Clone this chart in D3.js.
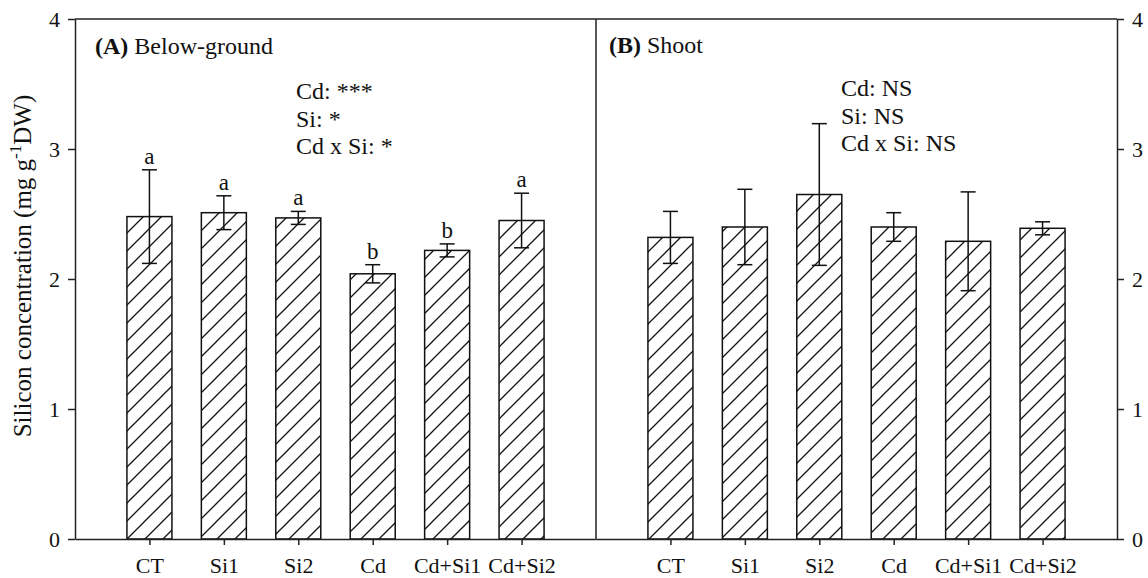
<!DOCTYPE html>
<meta charset="utf-8">
<style>
  body { margin: 0; background: #fff; }
  svg text { font-family: "Liberation Serif", "Times New Roman", serif; fill: #111; }
  .axis path, .axis line { stroke: #222; stroke-width: 1.5; }
  .axis text { font-size: 22px; }
</style>
<body>
<div id="chart"></div>
<script src="https://d3js.org/d3.v7.min.js"></script>
<script>
// data
const categories = ["CT", "Si1", "Si2", "Cd", "Cd+Si1", "Cd+Si2"];
const belowMean = [2.48, 2.51, 2.47, 2.04, 2.22, 2.45];
const belowErr = [0.36, 0.13, 0.05, 0.07, 0.05, 0.21];
const belowLetters = ["a", "a", "a", "b", "b", "a"];
const shootMean = [2.32, 2.40, 2.65, 2.40, 2.29, 2.39];
const shootErr = [0.20, 0.29, 0.545, 0.11, 0.38, 0.05];
const yTicks = [0, 1, 2, 3, 4];
const belowStats = ["Cd: ***", "Si: *", "Cd x Si: *"];
const shootStats = ["Cd: NS", "Si: NS", "Cd x Si: NS"];

const width = 1148, height = 578;
const pLeft = 75, pMid = 596, pRight = 1117, pTop = 19, pBottom = 539;

const svg = d3.select("#chart").append("svg")
  .attr("width", width)
  .attr("height", height);

// hatch pattern
const pat = svg.append("defs").append("pattern")
  .attr("id", "hatch")
  .attr("patternUnits", "userSpaceOnUse")
  .attr("width", 18)
  .attr("height", 18);
pat.append("path")
  .attr("d", "M-4,4 L4,-4 M0,18 L18,0 M14,22 L22,14")
  .attr("stroke", "#111")
  .attr("stroke-width", 1.3);

const y = d3.scaleLinear().domain([0, 4]).range([pBottom, pTop]);

const panels = [
  { x0: pLeft, x1: pMid, mean: belowMean, err: belowErr, letters: belowLetters },
  { x0: pMid, x1: pRight, mean: shootMean, err: shootErr, letters: null }
];

const barW = 45, capW = 15;

panels.forEach(p => {
  const x = d3.scalePoint().domain(categories).range([p.x0, p.x1]).padding(1);
  const rows = categories.map((c, i) => ({ c, m: p.mean[i], e: p.err[i], l: p.letters ? p.letters[i] : null }));

  const g = svg.append("g");

  g.selectAll(".bg").data(rows).join("rect")
    .attr("x", d => x(d.c) - barW / 2)
    .attr("y", d => y(d.m))
    .attr("width", barW)
    .attr("height", d => y(0) - y(d.m))
    .attr("fill", "#fff");

  g.selectAll(".bar").data(rows).join("rect")
    .attr("x", d => x(d.c) - barW / 2)
    .attr("y", d => y(d.m))
    .attr("width", barW)
    .attr("height", d => y(0) - y(d.m))
    .attr("fill", "url(#hatch)")
    .attr("stroke", "#111")
    .attr("stroke-width", 1.5);

  // error bars
  g.selectAll(".ev").data(rows).join("line")
    .attr("x1", d => x(d.c)).attr("x2", d => x(d.c))
    .attr("y1", d => y(d.m - d.e)).attr("y2", d => y(d.m + d.e))
    .attr("stroke", "#111").attr("stroke-width", 1.5);
  [1, -1].forEach(s => {
    g.selectAll(".cap" + (s > 0 ? "u" : "d")).data(rows).join("line")
      .attr("x1", d => x(d.c) - capW / 2).attr("x2", d => x(d.c) + capW / 2)
      .attr("y1", d => y(d.m + s * d.e)).attr("y2", d => y(d.m + s * d.e))
      .attr("stroke", "#111").attr("stroke-width", 1.5);
  });

  if (p.letters) {
    g.selectAll(".lt").data(rows).join("text")
      .attr("x", d => x(d.c))
      .attr("y", d => y(d.m + d.e) - 6)
      .attr("text-anchor", "middle")
      .style("font-size", "23px")
      .text(d => d.l);
  }

  // x axis
  svg.append("g")
    .attr("class", "axis")
    .attr("transform", `translate(0,${pBottom})`)
    .call(d3.axisBottom(x).tickSize(6).tickSizeOuter(0).tickPadding(12));
});

// y axes
const fmt = d3.format("d");
svg.append("g")
  .attr("class", "axis")
  .attr("transform", `translate(${pLeft},0)`)
  .call(d3.axisLeft(y).tickValues(yTicks).tickFormat(fmt).tickSize(7).tickSizeOuter(0).tickPadding(8));

svg.append("g")
  .attr("class", "axis")
  .attr("transform", `translate(${pRight},0)`)
  .call(d3.axisRight(y).tickValues(yTicks).tickFormat(fmt).tickSize(7).tickSizeOuter(0).tickPadding(8));

// frame: top border and divider
svg.append("line")
  .attr("x1", pLeft).attr("x2", pRight).attr("y1", pTop).attr("y2", pTop)
  .attr("stroke", "#222").attr("stroke-width", 1.5);
svg.append("line")
  .attr("x1", pMid).attr("x2", pMid).attr("y1", pTop).attr("y2", pBottom)
  .attr("stroke", "#222").attr("stroke-width", 1.5);

// panel titles
function panelTitle(x, yy, tag, name) {
  const t = svg.append("text").attr("x", x).attr("y", yy).style("font-size", "24px");
  t.append("tspan").style("font-weight", "bold").text(tag);
  t.append("tspan").text(" " + name);
}
panelTitle(95, 54, "(A)", "Below-ground");
panelTitle(609, 53, "(B)", "Shoot");

function stats(x, y0, lines) {
  svg.append("g").selectAll("text").data(lines).join("text")
    .attr("x", x)
    .attr("y", (d, i) => y0 + i * 27.5)
    .style("font-size", "24px")
    .text(d => d);
}
stats(296, 99, belowStats);
stats(841, 96, shootStats);

// y axis title
const yt = svg.append("text")
  .attr("transform", "translate(31,266) rotate(-90)")
  .attr("text-anchor", "middle")
  .style("font-size", "25px");
yt.append("tspan").text("Silicon concentration (mg g");
yt.append("tspan").attr("dy", -10).style("font-size", "17px").text("-1");
yt.append("tspan").attr("dy", 10).text("DW)");
</script>
</body>
